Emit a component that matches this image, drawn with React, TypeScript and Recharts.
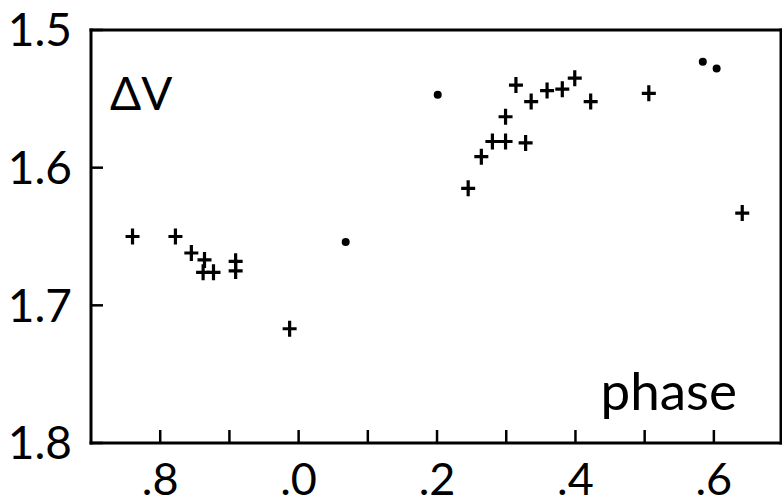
import * as React from "react";
import { ScatterChart, Scatter, XAxis, YAxis } from "recharts";

// phase / ΔV
const crossPhase = [
  -0.24, -0.178, -0.155, -0.136, -0.138, -0.123, -0.091, -0.091, -0.013,
  0.245, 0.264, 0.28, 0.299, 0.299, 0.328, 0.314, 0.336, 0.359, 0.381,
  0.399, 0.422, 0.506, 0.641
];
const crossDV = [
  1.65, 1.65, 1.662, 1.667, 1.676, 1.676, 1.668, 1.675, 1.717,
  1.615, 1.592, 1.581, 1.581, 1.563, 1.582, 1.54, 1.552, 1.544, 1.543,
  1.535, 1.552, 1.546, 1.633
];
const dotPhase = [0.068, 0.201, 0.584, 0.604];
const dotDV = [1.654, 1.547, 1.523, 1.528];

const xTicks = [-0.2, -0.1, 0, 0.1, 0.2, 0.3, 0.4, 0.5, 0.6];
const xTickLabels = [".8", "", ".0", "", ".2", "", ".4", "", ".6"];
const yTicks = [1.5, 1.6, 1.7, 1.8];
const yTickLabels = ["1.5", "1.6", "1.7", "1.8"];
const yRightTicks = [1.6, 1.7];

const crosses = crossPhase.map((x, i) => ({ x, y: crossDV[i] }));
const dots = dotPhase.map((x, i) => ({ x, y: dotDV[i] }));

const font = "Lato, 'Noto Sans', sans-serif";
const line = { stroke: "#000", strokeWidth: 3, strokeLinecap: "square" as const };
const tickLine = { stroke: "#000", strokeWidth: 2.5 };
const tickText = { fill: "#000", fontSize: 46, fontFamily: font };
const xTickText = { fill: "#000", fontSize: 45, fontFamily: font };

function Cross(props: any) {
  const { cx, cy } = props;
  return (
    <path
      d={`M${cx - 7},${cy}H${cx + 7}M${cx},${cy - 8}V${cy + 8}`}
      stroke="#000"
      strokeWidth={3.2}
      fill="none"
    />
  );
}

function Dot(props: any) {
  const { cx, cy } = props;
  return <circle cx={cx} cy={cy} r={4} fill="#000" />;
}

export default function App() {
  const xDomain: [number, number] = [-0.3, 0.697];
  const yDomain: [number, number] = [1.5, 1.8];
  return (
    <div style={{ position: "absolute", left: 0, top: 0, width: 782, height: 504, background: "#fff" }}>
      <ScatterChart width={782} height={504} margin={{ top: 0, right: 0, bottom: 0, left: 0 }}>
        <XAxis
          xAxisId="bottom"
          type="number"
          dataKey="x"
          orientation="bottom"
          domain={xDomain}
          ticks={xTicks}
          allowDataOverflow
          height={61}
          tickSize={-13}
          tickMargin={33}
          axisLine={line}
          tickLine={tickLine}
          tick={xTickText}
          interval={0}
          tickFormatter={(_v: number, i: number) => xTickLabels[i]}
        />
        <XAxis
          xAxisId="top"
          type="number"
          dataKey="x"
          orientation="top"
          domain={xDomain}
          ticks={xTicks}
          allowDataOverflow
          height={30}
          tickSize={-14}
          axisLine={line}
          tickLine={tickLine}
          tick={false}
          interval={0}
        />
        <YAxis
          yAxisId="left"
          type="number"
          dataKey="y"
          orientation="left"
          domain={yDomain}
          reversed
          ticks={yTicks}
          allowDataOverflow
          width={91}
          tickSize={-12}
          tickMargin={31}
          axisLine={line}
          tickLine={tickLine}
          tick={tickText}
          interval={0}
          tickFormatter={(_v: number, i: number) => yTickLabels[i]}
        />
        <YAxis
          yAxisId="right"
          type="number"
          dataKey="y"
          orientation="right"
          domain={yDomain}
          reversed
          ticks={yRightTicks}
          allowDataOverflow
          width={1}
          tickSize={-13}
          axisLine={line}
          tickLine={tickLine}
          tick={false}
          interval={0}
        />
        <Scatter
          xAxisId="bottom"
          yAxisId="left"
          data={crosses}
          shape={Cross}
          isAnimationActive={false}
        />
        <Scatter
          xAxisId="top"
          yAxisId="right"
          data={dots}
          shape={Dot}
          isAnimationActive={false}
        />
      </ScatterChart>
      <svg
        width={782}
        height={504}
        style={{ position: "absolute", left: 0, top: 0, pointerEvents: "none" }}
      >
        <text x={110} y={110} fontSize={46} fontFamily={font} fill="#000">
          ΔV
        </text>
        <text x={737} y={410} fontSize={53} fontFamily={font} fill="#000" textAnchor="end">
          phase
        </text>
      </svg>
    </div>
  );
}
